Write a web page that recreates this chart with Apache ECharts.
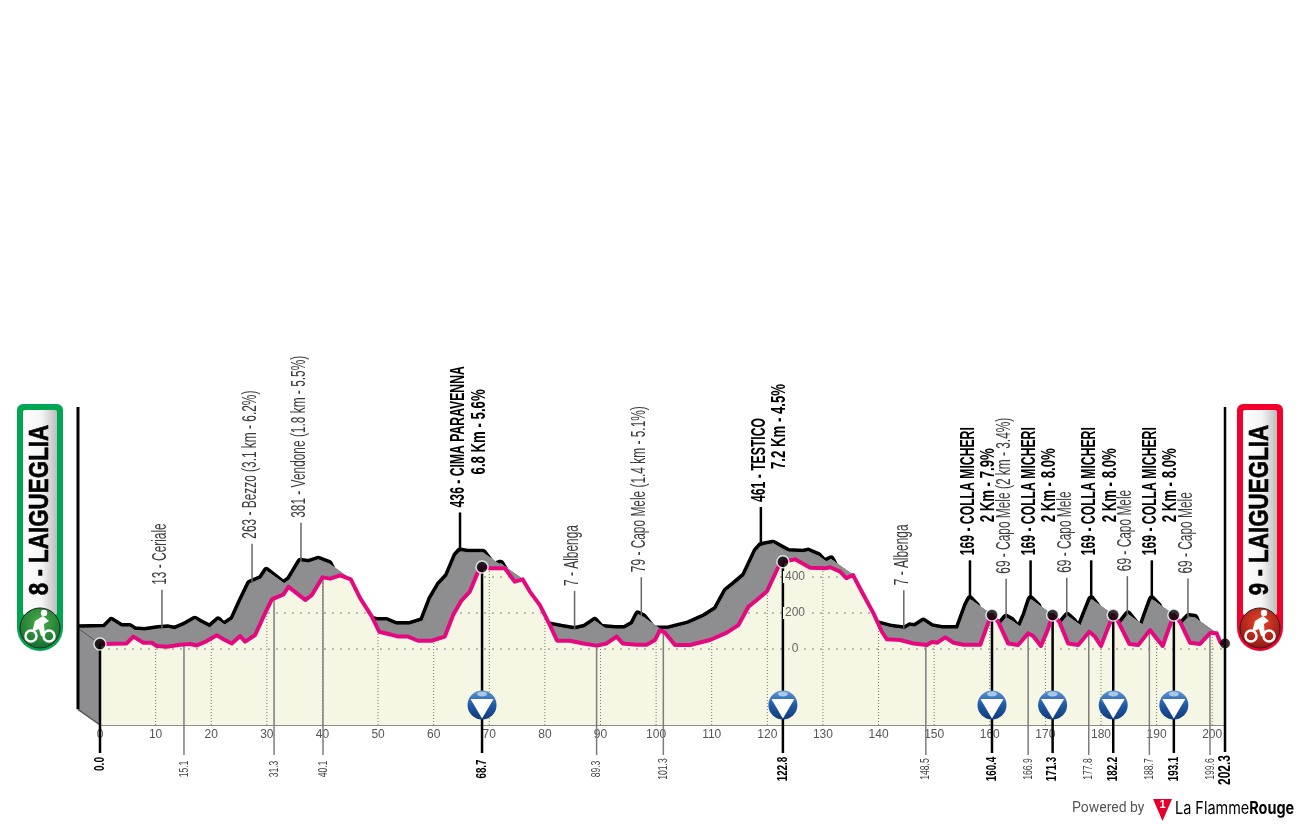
<!DOCTYPE html>
<html>
<head>
<meta charset="utf-8">
<title>Laigueglia</title>
<script src="https://cdn.jsdelivr.net/npm/echarts@6/dist/echarts.min.js"></script>
<style>
html, body { margin: 0; padding: 0; background: #fff; }
#main { width: 1300px; height: 825px; }
</style>
</head>
<body>
<div id="main"></div>
<script>
// road profile, km and metres
var profileKm = [0, 4.8, 6, 7.8, 9.3, 10.2, 12, 14.4, 16.2, 17.4, 19.2, 21, 22.2, 23.7, 25.2, 26.1, 27.9, 29.4, 30.9, 33, 33.9, 35.4, 36.9, 38.1, 40, 41.4,
    43.2, 45.1, 46.8, 48.9, 50.2, 52.2, 53.6, 55.4, 57.2, 59.6, 62, 63.5, 65, 66.5, 68, 68.7, 70, 72.8, 74.6, 76, 77.3, 79.1, 80.9, 82.2, 84.5, 86.9, 89.3, 91.1, 92.9, 94, 96.5, 98.3, 99.8, 100.7,
    101.6, 103.4, 106.1, 109.7, 112.7, 114.8, 116.6, 118.1, 119.9, 122, 122.8, 125, 127.7, 130.4, 131.3, 133.1, 134.2, 135.4, 137.3, 139.1, 140.6, 141.5, 143.9, 146.3, 148.7, 149.6, 150.5, 152, 153.5, 155.3, 158.3, 159.8,
    160.4, 161.5, 163.3, 165.1, 166.9, 167.8, 169.2, 170.4, 171.3, 172.5, 174.1, 175.9, 177.9, 178.9, 180, 181.1, 182.2, 183.1, 185.1, 186.7, 188.8, 190, 191.1, 192.1, 193.1, 194.2, 196, 197.8, 199.7, 200.8, 201.5, 202.3];
var profileElev = [28, 31, 69, 35, 35, 17, 13, 24, 28, 20, 44, 76, 54, 31, 72, 41, 78, 180, 276, 304, 346, 309, 272, 300, 398, 391,
    409, 387, 281, 180, 96, 81, 69, 69, 46, 46, 69, 189, 269, 319, 430, 455, 448, 448, 374, 387, 319, 244, 133, 46, 46, 31, 19, 31, 69, 31, 24, 24, 50, 105,
    91, 22, 22, 50, 91, 133, 235, 272, 319, 457, 485, 498, 452, 448, 454, 430, 393, 411, 300, 198, 96, 54, 50, 31, 22, 39, 35, 65, 35, 24, 24, 152,
    189, 152, 31, 22, 87, 72, 17, 105, 189, 152, 31, 22, 96, 69, 17, 105, 189, 152, 28, 22, 105, 59, 17, 105, 189, 152, 35, 28, 91, 87, 35, 31];

var tickKm = [0, 10, 20, 30, 40, 50, 60, 70, 80, 90, 100, 110, 120, 130, 140, 150, 160, 170, 180, 190, 200];
var tickElev = [0, 200, 400];

var climbKm = [68.7, 122.8, 160.4, 171.3, 182.2, 193.1];
var climbName = ['436 - CIMA PARAVENNA', '461 - TESTICO', '169 - COLLA MICHERI', '169 - COLLA MICHERI', '169 - COLLA MICHERI', '169 - COLLA MICHERI'];
var climbInfo = ['6.8 Km - 5.6%', '7.2 Km - 4.5%', '2 Km - 7.9%', '2 Km - 8.0%', '2 Km - 8.0%', '2 Km - 8.0%'];

var placeKm = [15.1, 31.3, 40.1, 89.3, 101.3, 148.5, 166.9, 177.8, 188.7, 199.6];
var placeName = ['13 - Ceriale', '263 - Bezzo (3.1 km - 6.2%)', '381 - Vendone (1.8 km - 5.5%)', '7 - Albenga', '79 - Capo Mele (1.4 km - 5.1%)',
    '7 - Albenga', '69 - Capo Mele (2 km - 3.4%)', '69 - Capo Mele', '69 - Capo Mele', '69 - Capo Mele'];

var startKm = 0;
var finishKm = 202.3;
var startName = '8 - LAIGUEGLIA';
var finishName = '9 - LAIGUEGLIA';

// 3d look: how far the back edge sits from the road
var depthKm = -3.96;
var depthM = 87;
var baseM = -422;

var NARROW = '"Liberation Sans Narrow","Liberation Sans",sans-serif';
var GREY = '#8e8e91';
var CREAM = '#f5f6e3';
var PINK = '#e5097f';

function elevAt(km) {
    for (var i = 1; i < profileKm.length; i++) {
        if (km <= profileKm[i]) {
            var t = (km - profileKm[i - 1]) / (profileKm[i] - profileKm[i - 1]);
            return profileElev[i - 1] + t * (profileElev[i] - profileElev[i - 1]);
        }
    }
    return profileElev[profileElev.length - 1];
}

var frontData = profileKm.map(function (km, i) { return [km, profileElev[i]]; });
var backData = profileKm.map(function (km, i) { return [km + depthKm, profileElev[i] + depthM]; });

function upText(text, x, y, font, fill, align, scale) {
    return {
        type: 'text', x: x, y: y, rotation: Math.PI / 2, scaleX: scale,
        style: { text: text, font: font, fill: fill, align: align, verticalAlign: 'middle' }
    };
}

function line(p1, p2, stroke, width, dash) {
    return {
        type: 'line', shape: { x1: p1[0], y1: p1[1], x2: p2[0], y2: p2[1] },
        style: { stroke: stroke, lineWidth: width, lineDash: dash || null }
    };
}

function renderBackEdge(params, api) {
    return {
        type: 'polyline',
        shape: { points: backData.map(function (p) { return api.coord(p); }) },
        style: { fill: 'none', stroke: '#000', lineWidth: 8, lineJoin: 'round' }
    };
}

// one parallelogram per road segment, sweeps the road back to the black edge
function renderSweep(params, api) {
    var i = params.dataIndex;
    if (i >= profileKm.length - 1) return null;
    var pts = [
        api.coord(backData[i]), api.coord(backData[i + 1]),
        api.coord(frontData[i + 1]), api.coord(frontData[i])
    ];
    return { type: 'polygon', shape: { points: pts }, style: { fill: GREY, stroke: GREY, lineWidth: 1 } };
}

function renderWall(params, api) {
    var a = api.coord(backData[0]);
    var b = api.coord(frontData[0]);
    var c = api.coord([startKm, baseM]);
    var d = [a[0], c[1] - (b[1] - a[1])];
    return {
        type: 'group',
        children: [
            { type: 'polygon', shape: { points: [a, b, c, d] }, style: { fill: GREY } },
            line(a, b, '#555', 1),
            line(d, c, '#555', 1.5),
            line([a[0], 407], [a[0], d[1]], '#000', 3)
        ]
    };
}

// dotted grid lives only under the road
function renderGrid(params, api) {
    var clip = frontData.map(function (p) { return api.coord(p); });
    clip.push(api.coord([finishKm, baseM]));
    clip.push(api.coord([startKm, baseM]));
    var kids = [];
    tickKm.forEach(function (km) {
        kids.push(line(api.coord([km, baseM]), api.coord([km, 600]), '#77776c', 1, [1, 2]));
    });
    tickElev.forEach(function (m) {
        kids.push(line(api.coord([startKm, m]), api.coord([finishKm, m]), '#a9a99a', 1.5, [2, 6]));
    });
    return { type: 'group', clipPath: { type: 'polygon', shape: { points: clip } }, children: kids };
}

function renderPlace(params, api) {
    var km = api.value(0);
    var front = api.coord([km, elevAt(km)]);
    var back = api.coord([km + depthKm, elevAt(km) + depthM]);
    return {
        type: 'group',
        children: [
            line(front, [front[0], 755], '#7d7d7d', 1.5),
            line(back, [back[0], back[1] - 39], '#666', 1.5),
            upText(placeName[params.dataIndex], back[0] - 1.5, back[1] - 44, '19.5px ' + NARROW, '#3a3a3a', 'left', 0.61),
            upText(km.toFixed(1), front[0], 769, '13px ' + NARROW, '#444', 'center', 0.66)
        ]
    };
}

function renderClimb(params, api) {
    var km = api.value(0);
    var front = api.coord([km, elevAt(km)]);
    var back = api.coord([km + depthKm, elevAt(km) + depthM]);
    var topY = back[1] - 44;
    return {
        type: 'group',
        children: [
            line(front, [front[0], 753], '#000', 2.5),
            line(back, [back[0], back[1] - 39], '#000', 2.5),
            upText(climbName[params.dataIndex], back[0] - 1.5, topY, 'bold 20px ' + NARROW, '#000', 'left', 0.61),
            upText(climbInfo[params.dataIndex], back[0] + 19, topY - 33, 'bold 20px ' + NARROW, '#000', 'left', 0.66),
            upText(km.toFixed(1), front[0], 769, 'bold 14px ' + NARROW, '#000', 'center', 0.7)
        ]
    };
}

function renderEnds(params, api) {
    var s = api.coord([startKm, elevAt(startKm)]);
    var f = api.coord([finishKm, elevAt(finishKm)]);
    return {
        type: 'group',
        children: [
            line(s, [s[0], 753], '#000', 2.5),
            line([f[0], 407], [f[0], 752], '#000', 2.5),
            upText(startKm.toFixed(1), s[0], 764, 'bold 14px ' + NARROW, '#000', 'center', 0.72),
            upText(finishKm.toFixed(1), f[0], 770, 'bold 17px ' + NARROW, '#000', 'center', 0.7)
        ]
    };
}

// blue sprint badge, sits a little above the base
function renderBadge(params, api) {
    var c = api.coord([api.value(0), -311]);
    return {
        type: 'group', x: c[0], y: c[1],
        children: [
            {
                type: 'circle', shape: { cx: 0, cy: 0, r: 14.5 },
                style: {
                    fill: new echarts.graphic.LinearGradient(0, 0, 0, 1, [
                        { offset: 0, color: '#5f95d0' }, { offset: 0.5, color: '#1f5aa8' }, { offset: 1, color: '#123a78' }
                    ])
                }
            },
            { type: 'ellipse', shape: { cx: 0, cy: -11, rx: 5, ry: 2.5 }, style: { fill: '#a8c8ea' } },
            { type: 'polygon', shape: { points: [[-11.5, -6], [11.5, -6], [0, 13.5]] }, style: { fill: '#fff' } }
        ]
    };
}

function cyclist(cx, cy, wheel, body) {
    return [
        { type: 'circle', shape: { cx: cx - 9, cy: cy + 8, r: 5.5 }, style: { fill: 'none', stroke: wheel, lineWidth: 2.5 } },
        { type: 'circle', shape: { cx: cx + 9, cy: cy + 8, r: 5.5 }, style: { fill: 'none', stroke: wheel, lineWidth: 2.5 } },
        { type: 'polygon', shape: { points: [[cx - 8, cy + 4], [cx - 5, cy - 7], [cx + 3, cy - 12], [cx + 9, cy - 7], [cx + 4, cy - 4], [cx + 5, cy + 8], [cx + 1, cy + 8], [cx - 1, cy + 1]] }, style: { fill: body } },
        { type: 'circle', shape: { cx: cx + 4, cy: cy - 15, r: 3.2 }, style: { fill: body } }
    ];
}

function pill(left, color, dark, light, name, iconX) {
    var inner = new echarts.graphic.LinearGradient(0, 0, 1, 0, [
        { offset: 0, color: '#fff' }, { offset: 0.55, color: '#f4f4f4' }, { offset: 1, color: '#bdbdbd' }
    ]);
    var disc = new echarts.graphic.RadialGradient(0.5, 0.35, 0.7, [
        { offset: 0, color: light }, { offset: 1, color: dark }
    ]);
    return [
        { type: 'rect', shape: { x: left, y: 404, width: 46, height: 247, r: [6, 6, 23, 23] }, style: { fill: color } },
        { type: 'rect', shape: { x: left + 6, y: 410, width: 34, height: 205, r: 2 }, style: { fill: inner } },
        {
            type: 'text', x: left + 23.5, y: 510, rotation: Math.PI / 2, scaleX: 0.8,
            style: { text: name, font: 'bold 28px "Liberation Sans",sans-serif', fill: '#000', align: 'center', verticalAlign: 'middle', stroke: '#000', lineWidth: 0.6 }
        },
        { type: 'circle', shape: { cx: iconX, cy: 628, r: 20 }, style: { fill: disc, stroke: '#222', lineWidth: 1 } }
    ].concat(cyclist(iconX, 628, '#fff', '#fff'));
}

var logo = [
    {
        type: 'text', x: 1072, y: 808,
        style: { text: 'Powered by', font: '14px Roboto,sans-serif', fill: '#555', align: 'left', verticalAlign: 'middle' }
    },
    { type: 'polygon', shape: { points: [[1153, 799], [1172, 799], [1162.5, 821]] }, style: { fill: '#e4002b' } },
    {
        type: 'text', x: 1162.5, y: 805,
        style: { text: '1', font: 'bold 11px "Liberation Sans",sans-serif', fill: '#fff', align: 'center', verticalAlign: 'middle' }
    },
    {
        type: 'text', x: 1175, y: 809, scaleX: 0.85,
        style: {
            text: '{a|La Flamme}{b|Rouge}', align: 'left', verticalAlign: 'middle',
            rich: {
                a: { fontSize: 17, fontFamily: 'Inter', color: '#222' },
                b: { fontWeight: 'bold', fontSize: 17, fontFamily: 'Inter', color: '#222' }
            }
        }
    }
];

var option = {
    backgroundColor: '#fff',
    animation: false,
    grid: { left: 100, width: 1125, top: 541, height: 184, outerBoundsMode: 'none' },
    xAxis: {
        type: 'value', min: startKm, max: finishKm,
        splitLine: { show: false },
        axisTick: { show: false },
        axisLine: { show: true, onZero: false, lineStyle: { color: '#8f8f86', width: 2 } },
        axisLabel: { customValues: tickKm, margin: 4, color: '#555', fontFamily: NARROW, fontSize: 12 }
    },
    yAxis: {
        type: 'value', min: baseM, max: 600, offset: -695, z: 6,
        splitLine: { show: false },
        axisTick: { show: false },
        axisLine: { show: false },
        axisLabel: { customValues: tickElev, align: 'center', margin: 0, color: '#666', fontFamily: NARROW, fontSize: 12, backgroundColor: CREAM, padding: [0, 2] }
    },
    graphic: {
        elements: pill(17, '#00a551', '#0f6b2c', '#4cab4a', startName, 40)
            .concat(pill(1237, '#f4002c', '#8c1512', '#e8432a', finishName, 1260))
            .concat(logo)
    },
    series: [
        { type: 'custom', z: 2, data: [[0]], renderItem: renderBackEdge, silent: true },
        { type: 'custom', z: 3, data: frontData, renderItem: renderSweep, silent: true },
        { type: 'custom', z: 3, data: [[0]], renderItem: renderWall, silent: true },
        { type: 'line', z: 4, data: frontData, silent: true, showSymbol: false, lineStyle: { width: 0 }, areaStyle: { color: CREAM, opacity: 1, origin: 'start' } },
        { type: 'custom', z: 5, data: [[0]], renderItem: renderGrid, silent: true },
        { type: 'custom', z: 6, data: placeKm.map(function (km) { return [km]; }), renderItem: renderPlace, silent: true },
        { type: 'custom', z: 6, data: climbKm.map(function (km) { return [km]; }), renderItem: renderClimb, silent: true },
        { type: 'custom', z: 6, data: [[0]], renderItem: renderEnds, silent: true },
        { type: 'line', z: 7, data: frontData, silent: true, showSymbol: false, lineStyle: { color: PINK, width: 4, join: 'round' } },
        {
            type: 'scatter', z: 8, silent: true, symbolSize: 12,
            data: [startKm].concat(climbKm).map(function (km) { return [km, elevAt(km)]; }),
            itemStyle: { color: '#000', borderColor: '#fff', borderWidth: 1.5 }
        },
        {
            type: 'scatter', z: 8, silent: true, symbolSize: 10,
            data: [[finishKm, elevAt(finishKm)]],
            itemStyle: { color: '#000' }
        },
        { type: 'custom', z: 9, data: climbKm.map(function (km) { return [km]; }), renderItem: renderBadge, silent: true }
    ]
};

var chart = echarts.init(document.getElementById('main'));
chart.setOption(option);
</script>
</body>
</html>
